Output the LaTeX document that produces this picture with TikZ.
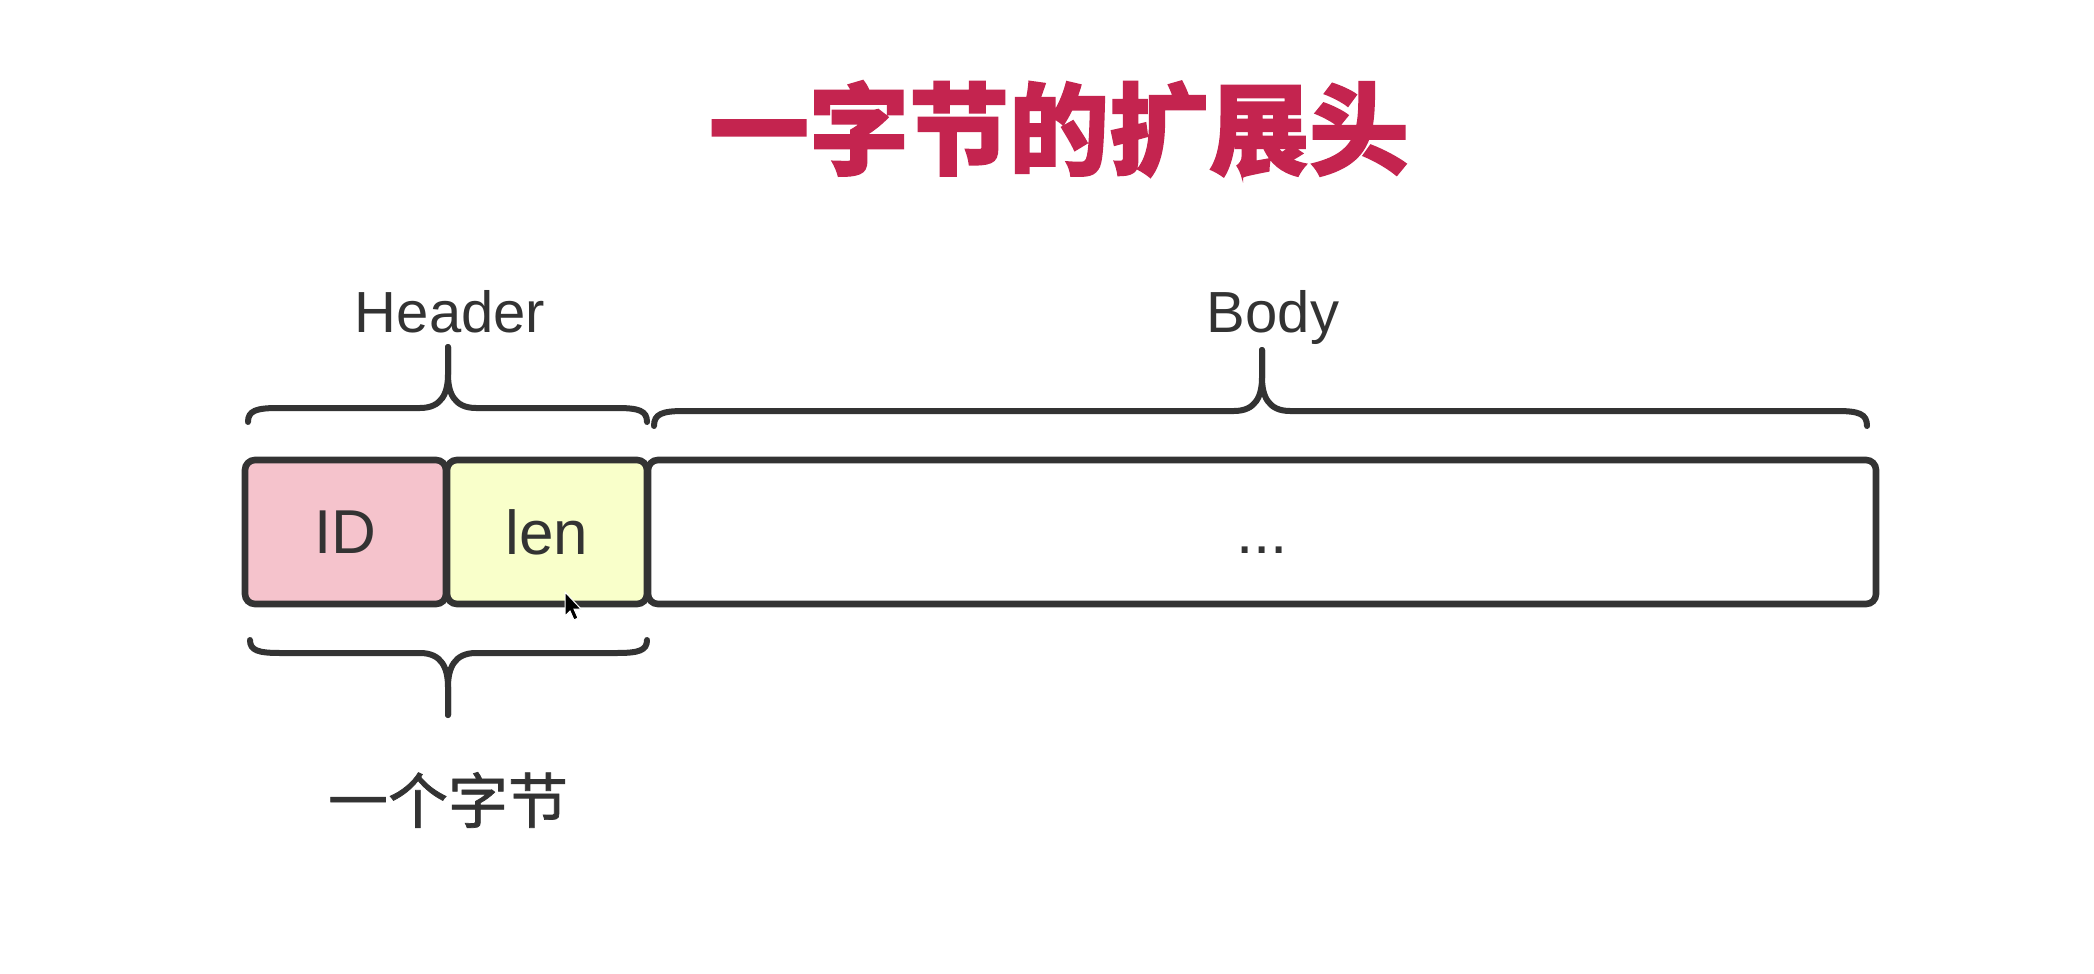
\documentclass[tikz,border=0pt]{standalone}
\usepackage{fontspec}
\setmainfont{Liberation Sans}
\newfontfamily\cjk{Noto Sans CJK SC}
\newfontfamily\cjkmed[FakeBold=1.2]{Noto Sans CJK SC}
\newfontfamily\cjktitle[BoldFeatures={FakeBold=1.6}]{Noto Sans CJK SC}
\definecolor{inkgray}{HTML}{333333}
\definecolor{idpink}{HTML}{F5C3CC}
\definecolor{lenyellow}{HTML}{F9FFCA}
\definecolor{titlered}{HTML}{C4244F}
\newcommand{\hbrace}[6]{% x1 x2 xc yend yh ytip
  \draw[bracestyle] (#1,#4) .. controls (#1,{#5+0.2*(#4-#5)}) and ({#1+8},#5) .. ({#1+30},#5) -- ({#3-28},#5)
    .. controls ({#3-6},#5) and (#3,{#5+0.25*(#6-#5)}) .. (#3,{#5+0.55*(#6-#5)}) -- (#3,#6);
  \draw[bracestyle] (#2,#4) .. controls (#2,{#5+0.2*(#4-#5)}) and ({#2-8},#5) .. ({#2-30},#5) -- ({#3+28},#5)
    .. controls ({#3+6},#5) and (#3,{#5+0.25*(#6-#5)}) .. (#3,{#5+0.55*(#6-#5)}) -- (#3,#6);
}
\begin{document}
\begin{tikzpicture}[x=0.5pt,y=-0.5pt,
  cell/.style={draw=inkgray, line width=3.3pt, rounded corners=5pt, minimum height=72pt,
     inner sep=0pt, text=inkgray, font=\fontsize{31}{36}\selectfont},
  bracestyle/.style={draw=inkgray, line width=3pt, line cap=round},
  lbl/.style={text=inkgray, font=\fontsize{29}{34}\selectfont, anchor=base, inner sep=0pt}]
\useasboundingbox[fill=white] (0,0) rectangle (2094,974);

\node[text=titlered, font=\cjktitle\bfseries\fontsize{50}{56}\selectfont] (title) at (1059,129) {一字节的扩展头};

\node[lbl] (hdr) at (450,332) {Header};
\node[lbl] (bdy) at (1273,332) {Body};

\hbrace{248}{647}{448}{422}{408}{347}
\hbrace{654}{1867}{1262}{426}{411}{350}
\hbrace{250}{647}{448}{640}{653}{715}

\node[cell, fill=idpink, minimum width=100.5pt] (id) at (345.5,532) {ID};
\node[cell, fill=lenyellow, minimum width=100pt] (len) at (547,532) {len};
\node[cell, fill=white, minimum width=614pt] (body) at (1262,532) {\vphantom{ID}...};

\node[text=inkgray, font=\cjkmed\fontsize{30}{36}\selectfont] (onebyte) at (448,800) {一个字节};

\fill[black, draw=white, line width=0.5pt] (565,592) -- (565,616) -- (570,611) -- (574,620) -- (578,618) -- (574,609) -- (581,609) -- cycle;
\end{tikzpicture}
\end{document}
